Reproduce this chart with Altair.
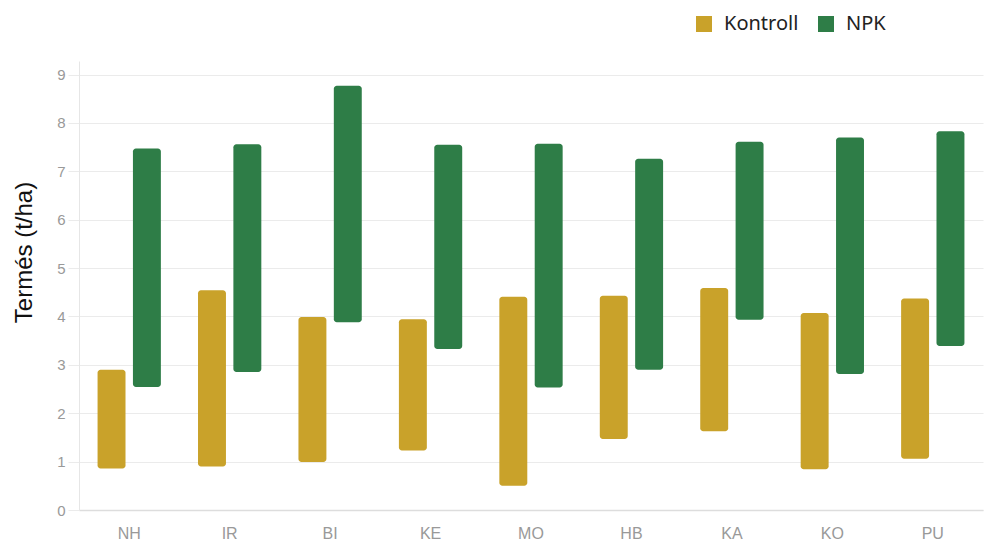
import altair as alt
import pandas as pd

categories = ["NH", "IR", "BI", "KE", "MO", "HB", "KA", "KO", "PU"]
series_names = ["Kontroll", "NPK"]
kontroll_low = [0.86, 0.90, 0.99, 1.23, 0.50, 1.47, 1.63, 0.84, 1.06]
kontroll_high = [2.90, 4.54, 3.99, 3.94, 4.41, 4.43, 4.59, 4.07, 4.37]
npk_low = [2.54, 2.85, 3.88, 3.33, 2.53, 2.90, 3.93, 2.81, 3.39]
npk_high = [7.47, 7.56, 8.77, 7.55, 7.57, 7.26, 7.61, 7.70, 7.83]
colors = ["#C9A22A", "#2E7D47"]
y_ticks = [0, 1, 2, 3, 4, 5, 6, 7, 8, 9]

rows = []
for i, c in enumerate(categories):
    rows.append({"cat": c, "series": "Kontroll", "low": kontroll_low[i], "high": kontroll_high[i]})
    rows.append({"cat": c, "series": "NPK", "low": npk_low[i], "high": npk_high[i]})
df = pd.DataFrame(rows)

chart = alt.Chart(df).mark_bar(cornerRadius=3).encode(
    x=alt.X("cat:N", sort=categories,
            scale=alt.Scale(paddingInner=0, paddingOuter=0),
            axis=alt.Axis(title=None, labelAngle=0, ticks=False, grid=False,
                          labelColor="#999999", labelFontSize=16, labelFont="Liberation Sans",
                          labelPadding=15, domainColor="#dddddd", domainWidth=1.5)),
    xOffset=alt.XOffset("series:N", sort=series_names,
                        scale=alt.Scale(paddingInner=0.21, paddingOuter=0.525)),
    y=alt.Y("low:Q", scale=alt.Scale(domain=[0, 9.28], nice=False),
            axis=alt.Axis(title="Termés (t/ha)", values=y_ticks, grid=True, gridColor="#ebebeb",
                          tickColor="#ebebeb", tickSize=11, labelPadding=3,
                          labelColor="#999999", labelFontSize=15, labelFont="Liberation Sans",
                          domainColor="#e6e6e6",
                          titleFont="Liberation Sans", titleFontSize=24, titleFontWeight="normal",
                          titleColor="#111111", titleX=-48, titleY=191, titleAngle=-90,
                          titleAlign="center", titleBaseline="alphabetic")),
    y2="high:Q",
    color=alt.Color("series:N", sort=series_names,
                    scale=alt.Scale(domain=series_names, range=colors),
                    legend=alt.Legend(title=None, orient="none", legendX=615, legendY=-47,
                                      direction="horizontal", symbolType="square",
                                      symbolSize=256, symbolStrokeWidth=0, symbolOpacity=1,
                                      labelFont="Noto Sans", labelFontSize=20,
                                      labelColor="#222222", labelOffset=10,
                                      columnPadding=17, padding=0)),
).properties(
    width=904, height=449,
    autosize=alt.AutoSizeParams(type="none"),
    padding={"left": 71, "top": 53, "right": 9, "bottom": 35},
).configure_view(stroke=None)

chart.save("out.html", embed_options={"renderer": "svg", "actions": False})
